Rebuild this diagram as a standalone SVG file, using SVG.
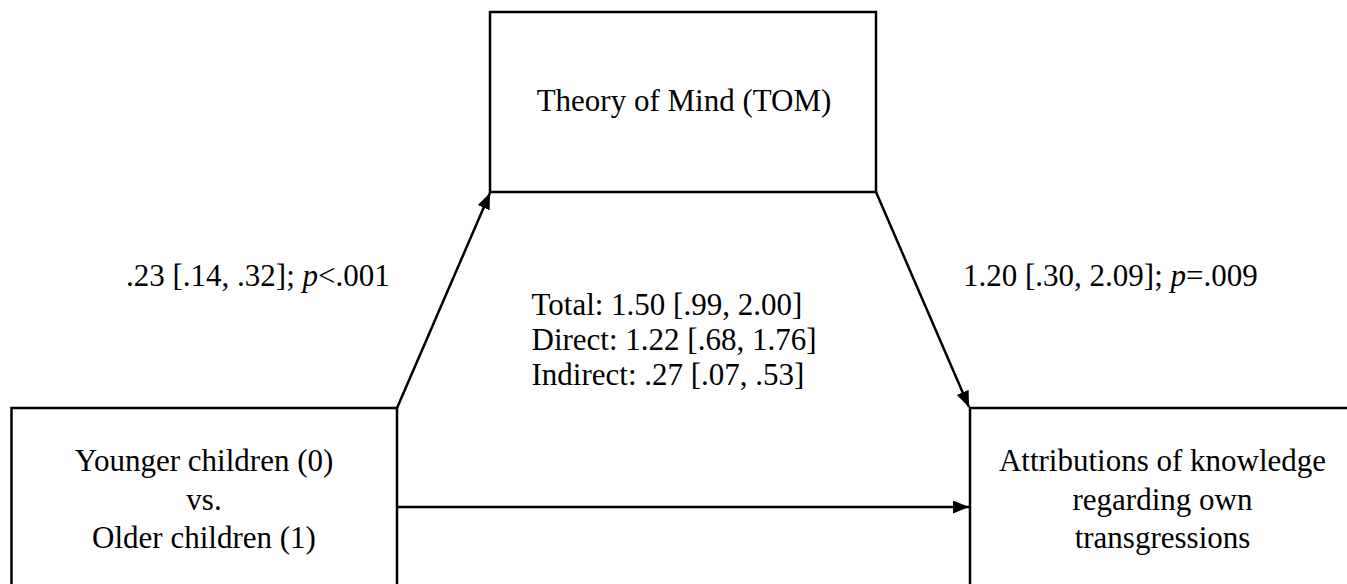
<svg xmlns="http://www.w3.org/2000/svg" width="1347" height="584" viewBox="0 0 1347 584">
<style>
.box{fill:#fff;stroke:#000;stroke-width:2.5}
.t{font-family:"Liberation Serif","Times New Roman",serif;font-size:31px;fill:#000}
.c{text-anchor:middle}
.edge{stroke:#000;stroke-width:2.5;fill:none}
</style>
<defs>
<marker id="ah" viewBox="0 0 16 13" refX="16" refY="6.5" markerWidth="16" markerHeight="13" orient="auto" markerUnits="userSpaceOnUse">
<path d="M0,0 L16,6.5 L0,13 z" fill="#000"/>
</marker>
</defs>
<rect width="1347" height="584" fill="#fff"/>
<g id="node-tom">
<rect class="box" x="490" y="12" width="386" height="180"/>
<text class="t c" x="684" y="111">Theory of Mind (TOM)</text>
</g>
<g id="node-age">
<rect class="box" x="11.5" y="408" width="385.5" height="200"/>
<text class="t c" x="204" y="471">Younger children (0)</text>
<text class="t c" x="204" y="509.5">vs.</text>
<text class="t c" x="204" y="548">Older children (1)</text>
</g>
<g id="node-attr">
<rect class="box" x="970" y="408" width="400" height="200"/>
<text class="t c" x="1162.5" y="471">Attributions of knowledge</text>
<text class="t c" x="1162.5" y="509.5">regarding own</text>
<text class="t c" x="1162.5" y="548">transgressions</text>
</g>
<g id="connectors">
<path class="edge" d="M397,408 L490,193" marker-end="url(#ah)"/>
<path class="edge" d="M876,192 L969,407" marker-end="url(#ah)"/>
<path class="edge" d="M397,507 L969,507" marker-end="url(#ah)"/>
</g>
<g id="labels">
<text class="t" x="126" y="286">.23 [.14, .32]; <tspan font-style="italic">p</tspan>&lt;.001</text>
<text class="t" x="963" y="286">1.20 [.30, 2.09]; <tspan font-style="italic">p</tspan>=.009</text>
<text class="t" x="531.5" y="315">Total: 1.50 [.99, 2.00]</text>
<text class="t" x="531.5" y="350">Direct: 1.22 [.68, 1.76]</text>
<text class="t" x="531.5" y="385">Indirect: .27 [.07, .53]</text>
</g>
</svg>
